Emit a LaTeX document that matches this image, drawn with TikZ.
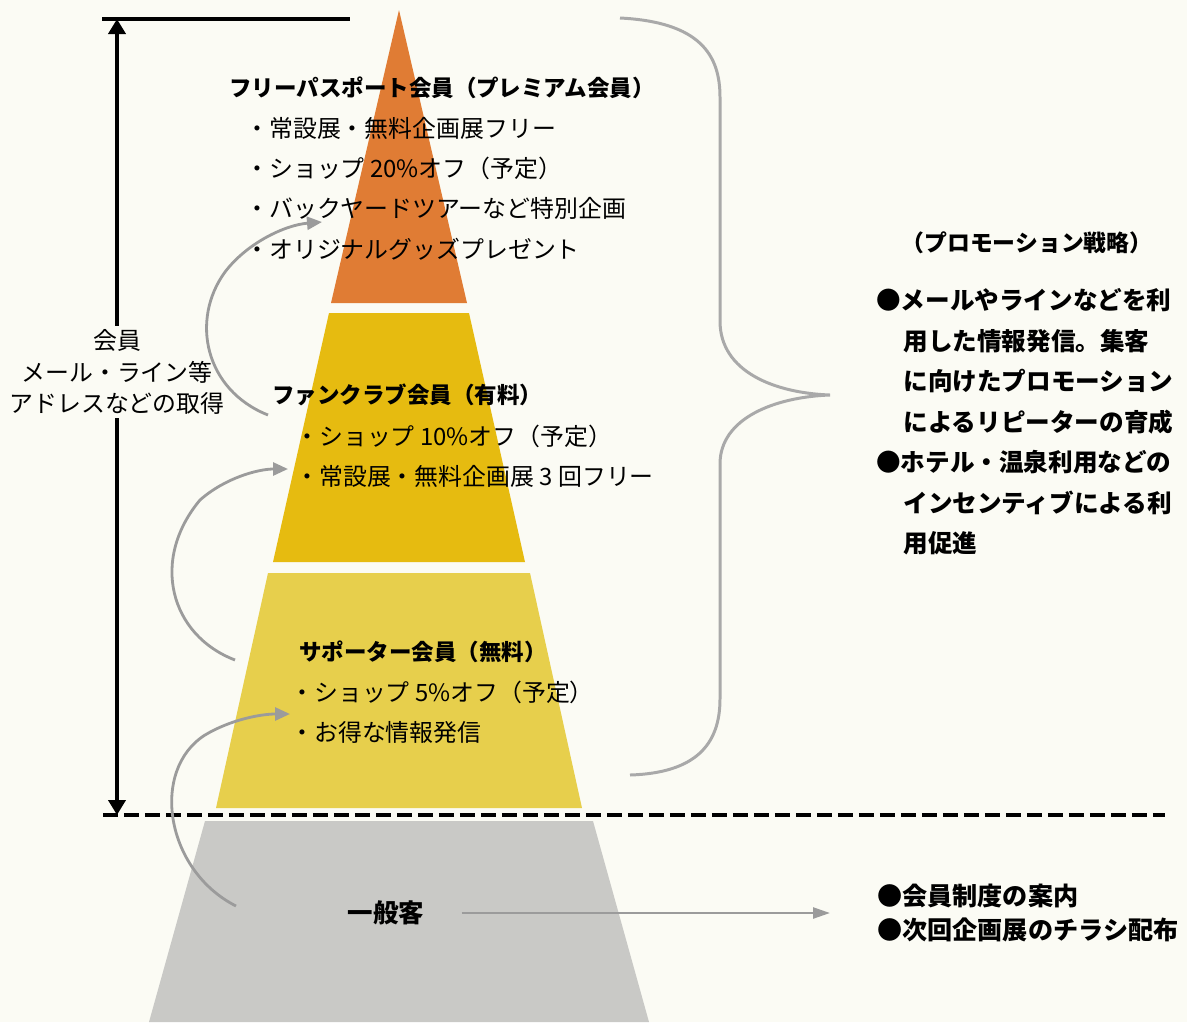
\documentclass[tikz,border=0pt]{standalone}
\usepackage{fontspec}
\setmainfont{Noto Sans CJK JP}
\usepackage{tikz}
\usetikzlibrary{arrows.meta,positioning,calc}

\definecolor{paper}{HTML}{FBFBF4}
\definecolor{tierfree}{HTML}{E07C34}
\definecolor{tierfan}{HTML}{E6BB10}
\definecolor{tiersup}{HTML}{E7CF4C}
\definecolor{tiergen}{HTML}{C9C9C6}
\definecolor{flowgray}{HTML}{9B9B9B}
\definecolor{bracegray}{HTML}{A9A9A9}

\begin{document}
\begin{tikzpicture}[x=0.02cm,y=-0.02cm,
	item/.style={anchor=west,inner sep=0pt,font=\fontsize{13.6}{16}\selectfont},
	tiertitle/.style={anchor=west,inner sep=0pt,font=\fontsize{12.8}{15}\selectfont\bfseries},
	flow/.style={draw=flowgray,line width=1.6pt,-{Triangle[length=0.3cm,width=0.26cm]}},
	]

	\fill[paper] (0,0) rectangle (1187,1022);
	\useasboundingbox (0,0) rectangle (1187,1022);

	% pyramid
	\fill[tierfree] (399,10) -- (467,303) -- (331,303) -- cycle;
	\fill[tierfan] (329,313) -- (469,313) -- (525,562) -- (273,562) -- cycle;
	\fill[tiersup] (268,573) -- (530,573) -- (582,808) -- (216,808) -- cycle;
	\fill[tiergen] (205,821) -- (593,821) -- (649,1022) -- (149,1022) -- cycle;

	% member range
	\coordinate (memtop) at (117,19);
	\coordinate (membot) at (117,815);
	\draw[line width=2.3pt] (102,19) -- (350,19);
	\draw[line width=2.3pt,{Triangle[length=0.3cm,width=0.34cm]}-{Triangle[length=0.3cm,width=0.34cm]}] (memtop) -- (membot);
	\draw[line width=2.3pt,dash pattern=on 0.3cm off 0.12cm] (103,815) -- (1165,815);
	\node[align=center,fill=paper,inner sep=2pt,font=\fontsize{13.6}{18.1}\selectfont](member) at (117,372){会員\\メール・ライン等\\アドレスなどの取得};

	% free passport
	\node[tiertitle](freetitle) at (229,88){フリーパスポート会員（プレミアム会員）};
	\node[item](free1) at (245,128){・常設展・無料企画展フリー};
	\node[item,below=0.806cm of free1.west,anchor=west](free2){・ショップ 20\%オフ（予定）};
	\node[item,below=0.806cm of free2.west,anchor=west](free3){・バックヤードツアーなど特別企画};
	\node[item,below=0.806cm of free3.west,anchor=west](free4){・オリジナルグッズプレゼント};

	% fan club
	\node[tiertitle](fantitle) at (272,395){ファンクラブ会員（有料）};
	\node[item](fan1) at (295,436){・ショップ 10\%オフ（予定）};
	\node[item,below=0.8cm of fan1.west,anchor=west](fan2){・常設展・無料企画展 3 回フリー};

	% supporter
	\node[tiertitle](suptitle) at (299,652){サポーター会員（無料）};
	\node[item](sup1) at (290,692){・ショップ 5\%オフ（予定）};
	\node[item,below=0.8cm of sup1.west,anchor=west](sup2){・お得な情報発信};

	% general
	\node[inner sep=0pt,font=\fontsize{14.5}{16}\selectfont\bfseries](gen) at (386,913){一般客};

	% step up arrows
	\coordinate (up1s) at (236,906);
	\coordinate (up1e) at (290,714);
	\coordinate (up2s) at (235,660);
	\coordinate (up2e) at (288,469);
	\coordinate (up3s) at (268,415);
	\coordinate (up3e) at (322,222);
	\draw[flow] (up1s) .. controls (165,870) and (150,770) .. (205,735) .. controls (230,720) and (260,714) .. (up1e);
	\draw[flow] (up2s) .. controls (170,635) and (150,560) .. (200,500) .. controls (225,478) and (258,469) .. (up2e);
	\draw[flow] (up3s) .. controls (205,390) and (190,320) .. (225,272) .. controls (247,243) and (285,225) .. (up3e);

	% promotion
	\draw[draw=bracegray,line width=1.7pt] (620,18) .. controls (700,22) and (720,55) .. (720,97) -- (720,321)
		.. controls (720,372) and (775,393) .. (830,395) .. controls (775,397) and (720,418) .. (720,464) -- (720,699)
		.. controls (720,745) and (695,773) .. (630,775);
	\node[inner sep=0pt,font=\fontsize{13}{15}\selectfont\bfseries](promotitle) at (1027,243){（プロモーション戦略）};
	\node[anchor=west,align=left,inner sep=0pt,font=\fontsize{14}{23.07}\selectfont\bfseries](promo) at (876,422){●メールやラインなどを利\\\hspace*{1.1em}用した情報発信。集客\\\hspace*{1.1em}に向けたプロモーション\\\hspace*{1.1em}によるリピーターの育成\\●ホテル・温泉利用などの\\\hspace*{1.1em}インセンティブによる利\\\hspace*{1.1em}用促進};

	% guidance
	\node[anchor=west,align=left,inner sep=0pt,font=\fontsize{14.3}{19.3}\selectfont\bfseries](guide) at (877,913){●会員制度の案内\\●次回企画展のチラシ配布};
	\draw[draw=flowgray,line width=1.4pt,-{Triangle[length=0.34cm,width=0.22cm]},shorten <=0.74cm,shorten >=0.94cm] (gen.east) -- (gen.east -| guide.west);

\end{tikzpicture}
\end{document}
